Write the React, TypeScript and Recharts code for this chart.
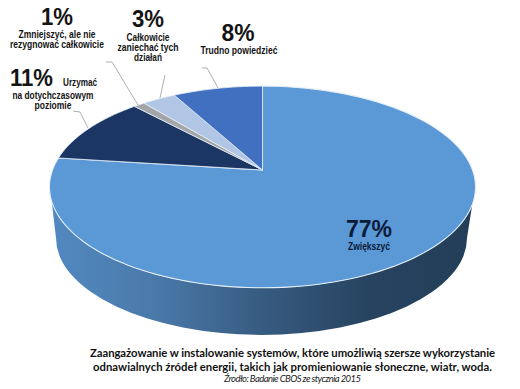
import React from "react";
import { PieChart, Pie } from "recharts";

const categories = ["Zwiększyć", "Urzymać na dotychczasowym poziomie", "Zmniejszyć, ale nie rezygnować całkowicie", "Całkowicie zaniechać tych działań", "Trudno powiedzieć"];
const values = [77, 11, 1, 3, 8];
const colors = ["#5a98d6", "#1c3664", "#a3a5a8", "#b1c6e4", "#4270c0"];
const data = categories.map((name, i) => ({ name, value: values[i], fill: colors[i] }));

const footerLines = [
  "Zaangażowanie w instalowanie systemów, które umożliwią szersze wykorzystanie",
  "odnawialnych źródeł energii, takich jak promieniowanie słoneczne, wiatr, woda.",
];
const sourceLine = "Źrodło: Badanie CBOS ze stycznia 2015";

// Perspective view of the pie
const CX = 262.5, CY = 170, R = 210, SQUASH = 98 / 210, PERSP = 0.168;
const RAD = Math.PI / 180;
const project = (cx: number, cy: number, r: number, deg: number) => {
  const u = Math.cos(deg * RAD), v = Math.sin(deg * RAD), d = 1 + PERSP * v;
  return [cx + (r * u) / d, cy - (r * SQUASH * v) / d];
};
const arcPath = (cx: number, cy: number, r: number, a0: number, a1: number) => {
  const pts: string[] = [];
  const steps = Math.max(2, Math.ceil(Math.abs(a1 - a0) / 2));
  for (let i = 0; i <= steps; i++) {
    const [x, y] = project(cx, cy, r, a0 + ((a1 - a0) * i) / steps);
    pts.push(`${x.toFixed(2)} ${y.toFixed(2)}`);
  }
  return pts.join(" L ");
};

const Slice = (p: any) => {
  const { cx, cy, outerRadius, startAngle, endAngle, fill, index } = p;
  const d = `M ${cx} ${cy} L ${arcPath(cx, cy, outerRadius, startAngle, endAngle)} Z`;
  const tcx = cx, tcy = cy + 17, rx = (outerRadius * 212.5) / 210, ry = outerRadius * SQUASH * 1.03;
  const wall = `M ${tcx - rx} ${tcy} A ${rx} ${ry} 0 0 0 ${tcx + rx} ${tcy} L ${tcx + rx - 8} ${tcy + 51} A ${rx - 7} ${ry - 4} 0 0 1 ${tcx - rx + 6} ${tcy + 51} Z`;
  return (
    <g>
      {startAngle === 90 ? <path d={wall} fill="url(#wallGrad)" /> : null}
      <path d={d} fill={fill} stroke="#e4eef8" strokeWidth={index === 0 ? 1.1 : 0.8} strokeLinejoin="round" />
    </g>
  );
};

// one entry per slice: leader line, percent label, caption lines
type Cap = [string, number, number, number, number?];
const labelLayout: { leader?: string; pct: [number, number, number]; caps: Cap[]; fill: string }[] = [
  { pct: [369, 237, 46], fill: "#0b1b38", caps: [["Zwiększyć", 369, 250, 42]] },
  {
    leader: "73,111 80,112 88,128",
    pct: [31.5, 86, 43],
    fill: "#141414",
    caps: [["Urzymać", 80, 86, 34], ["na dotychczasowym", 53, 99, 81], ["poziomie", 53, 109, 37]],
  },
  {
    leader: "106,62 112,62 138,105",
    pct: [57, 25, 32],
    fill: "#141414",
    caps: [["Zmniejszyć, ale nie", 57, 38, 77], ["rezygnować całkowicie", 57, 48, 94]],
  },
  {
    leader: "165,75 160,98",
    pct: [148, 27, 32],
    fill: "#141414",
    caps: [["Całkowicie", 148, 41, 43], ["zaniechać tych", 148, 51, 61], ["działań", 148, 61, 28]],
  },
  {
    leader: "202,68 207,68 218,88",
    pct: [238, 41, 33],
    fill: "#141414",
    caps: [["Trudno powiedzieć", 239, 54, 77]],
  },
];

const renderLabel = (p: any) => {
  const l = labelLayout[p.index];
  return (
    <g key={p.index}>
      {l.leader ? <polyline points={l.leader} fill="none" stroke="#9a9a9a" strokeWidth={0.8} /> : null}
      <text x={l.pct[0]} y={l.pct[1]} fontSize={23.5} fontFamily="Liberation Sans" fontWeight={700} fill={l.fill} textAnchor="middle" textLength={l.pct[2]} lengthAdjust="spacingAndGlyphs">
        {`${values[p.index]}%`}
      </text>
      {l.caps.map(([s, x, y, w]) => (
        <text key={s} x={x} y={y} fontSize={10.2} fontFamily="Liberation Sans" fontWeight={700} fill={l.fill} textAnchor="middle" textLength={w} lengthAdjust="spacingAndGlyphs">
          {s}
        </text>
      ))}
    </g>
  );
};

export default function App() {
  return (
    <div style={{ position: "absolute", left: 0, top: 0, width: 520, height: 389, background: "#fff" }}>
      <PieChart width={520} height={389} margin={{ top: 0, right: 0, bottom: 0, left: 0 }}>
        <defs>
          <linearGradient id="wallGrad" x1="0" y1="0" x2="1" y2="0">
            <stop offset="0" stopColor="#5289c1" />
            <stop offset="0.25" stopColor="#4a79a9" />
            <stop offset="0.5" stopColor="#375b80" />
            <stop offset="0.75" stopColor="#274360" />
            <stop offset="1" stopColor="#233e58" />
          </linearGradient>
        </defs>
        <Pie
          data={data}
          dataKey="value"
          nameKey="name"
          cx={CX}
          cy={CY}
          innerRadius={0}
          outerRadius={R}
          startAngle={90}
          endAngle={-270}
          stroke="none"
          isAnimationActive={false}
          shape={Slice}
          label={renderLabel}
          labelLine={false}
        />
        <text x={90} y={357} fontSize={11.3} fontFamily="Lato" fontWeight={700} fill="#111" textLength={405} lengthAdjust="spacing">{footerLines[0]}</text>
        <text x={93} y={371} fontSize={11.3} fontFamily="Lato" fontWeight={700} fill="#111" textLength={399} lengthAdjust="spacing">{footerLines[1]}</text>
        <text x={224} y={382} fontSize={9.5} fontFamily="Lato" fontStyle="italic" fill="#222" textLength={137} lengthAdjust="spacing">{sourceLine}</text>
      </PieChart>
    </div>
  );
}
